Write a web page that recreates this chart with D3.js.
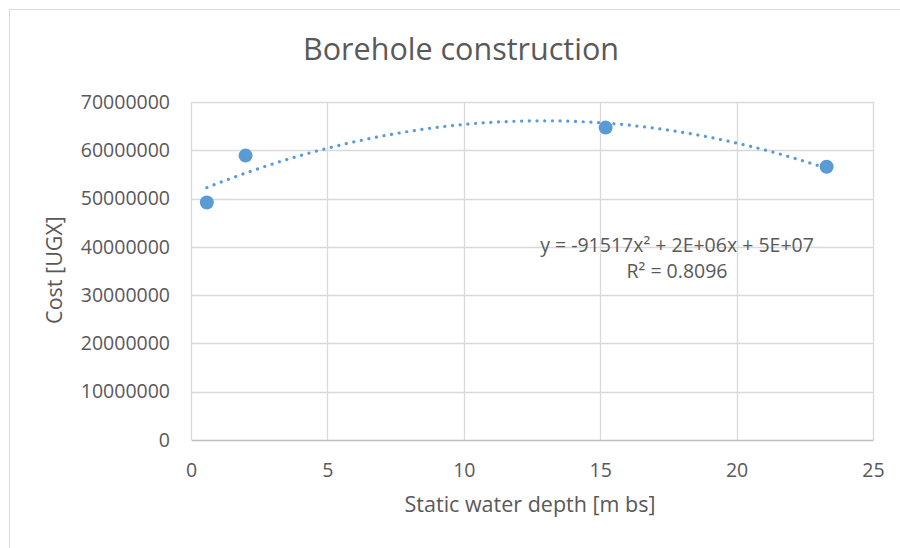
<!DOCTYPE html>
<html>
<head>
<meta charset="utf-8">
<script src="https://cdn.jsdelivr.net/npm/d3@7"></script>
<style>
  html, body { margin: 0; padding: 0; background: #fff; }
  svg { display: block; font-family: "Open Sans", sans-serif; }
</style>
</head>
<body>
<svg id="chart" width="900" height="548"></svg>
<script>
// Borehole survey: static water depth vs construction cost
const depth = [0.58, 2.0, 15.2, 23.3];
const cost = [49200000, 58900000, 64700000, 56600000];
const xTicks = [0, 5, 10, 15, 20, 25];
const yTicks = [0, 10000000, 20000000, 30000000, 40000000, 50000000, 60000000, 70000000];
const equationLines = ["y = -91517x\u00B2 + 2E+06x + 5E+07", "R\u00B2 = 0.8096"];

const blue = "#5B9BD5";
const grid = "#d9d9d9";
const textColor = "#595959";

const svg = d3.select("#chart");

// outer chart frame
svg.append("rect")
  .attr("x", 9.5).attr("y", 9.5)
  .attr("width", 1000).attr("height", 1000)
  .attr("fill", "none").attr("stroke", grid).attr("stroke-width", 1);

const plotLeft = 191, plotRight = 873, plotTop = 102, plotBottom = 440;
const x = d3.scaleLinear().domain([0, 25]).range([plotLeft, plotRight]);
const y = d3.scaleLinear().domain([0, 70000000]).range([plotBottom, plotTop]);

// gridlines
svg.append("g").selectAll("line").data(yTicks.slice(1)).join("line")
  .attr("x1", plotLeft).attr("x2", plotRight)
  .attr("y1", d => Math.round(y(d)) + 0.5).attr("y2", d => Math.round(y(d)) + 0.5)
  .attr("stroke", grid).attr("stroke-width", 1.3);
svg.append("g").selectAll("line").data(xTicks).join("line")
  .attr("y1", plotTop).attr("y2", plotBottom)
  .attr("x1", d => Math.round(x(d)) + 0.5).attr("x2", d => Math.round(x(d)) + 0.5)
  .attr("stroke", grid).attr("stroke-width", 1.3);

// axes (labels only, lines drawn with gridlines)
const xAxis = svg.append("g")
  .attr("transform", `translate(0,${plotBottom})`)
  .call(d3.axisBottom(x).tickValues(xTicks).tickSize(0).tickPadding(23).tickFormat(d3.format("d")));
xAxis.select(".domain").attr("stroke", "#bfbfbf").attr("stroke-width", 1.3);
xAxis.selectAll("text").attr("fill", textColor).attr("font-size", 19.5).attr("font-family", "Open Sans");

const yAxis = svg.append("g")
  .attr("transform", `translate(${plotLeft},0)`)
  .call(d3.axisLeft(y).tickValues(yTicks).tickSize(0).tickPadding(21).tickFormat(d3.format("d")));
yAxis.select(".domain").remove();
yAxis.selectAll("text").attr("fill", textColor).attr("font-size", 19.5).attr("font-family", "Open Sans");

// least-squares quadratic trendline through the points
function quadFit(xs, ys) {
  const n = xs.length;
  let s = [0, 0, 0, 0, 0], t = [0, 0, 0];
  for (let i = 0; i < n; i++) {
    for (let k = 0; k <= 4; k++) s[k] += Math.pow(xs[i], k);
    for (let k = 0; k <= 2; k++) t[k] += ys[i] * Math.pow(xs[i], k);
  }
  const M = [[s[0], s[1], s[2], t[0]], [s[1], s[2], s[3], t[1]], [s[2], s[3], s[4], t[2]]];
  for (let i = 0; i < 3; i++) {
    for (let j = i + 1; j < 3; j++) {
      const f = M[j][i] / M[i][i];
      for (let k = i; k < 4; k++) M[j][k] -= f * M[i][k];
    }
  }
  const r = [0, 0, 0];
  for (let i = 2; i >= 0; i--) {
    let v = M[i][3];
    for (let k = i + 1; k < 3; k++) v -= M[i][k] * r[k];
    r[i] = v / M[i][i];
  }
  return r; // [c, b, a]
}
const [c0, c1, c2] = quadFit(depth, cost);
const xMin = d3.min(depth), xMax = d3.max(depth);
const trend = d3.range(0, 201).map(i => {
  const xv = xMin + (xMax - xMin) * i / 200;
  return [xv, c0 + c1 * xv + c2 * xv * xv];
});
svg.append("path")
  .datum(trend)
  .attr("d", d3.line().x(d => x(d[0])).y(d => y(d[1])))
  .attr("fill", "none").attr("stroke", blue)
  .attr("stroke-width", 3.2).attr("stroke-linecap", "round")
  .attr("stroke-dasharray", "0.1 7.6");

// data points
svg.append("g").selectAll("circle").data(depth).join("circle")
  .attr("cx", d => x(d)).attr("cy", (d, i) => y(cost[i]))
  .attr("r", 7).attr("fill", blue);

// trendline equation
svg.append("text")
  .attr("text-anchor", "middle").attr("fill", textColor)
  .attr("font-size", 19.5)
  .selectAll("tspan").data(equationLines).join("tspan")
  .attr("x", 677).attr("y", (d, i) => 252 + i * 26)
  .text(d => d);

// title and axis titles
svg.append("text")
  .attr("x", 461).attr("y", 60)
  .attr("text-anchor", "middle").attr("fill", textColor)
  .attr("font-size", 30.5)
  .text("Borehole construction");

svg.append("text")
  .attr("x", 530).attr("y", 512)
  .attr("text-anchor", "middle").attr("fill", textColor)
  .attr("font-size", 21.5)
  .text("Static water depth [m bs]");

svg.append("text")
  .attr("transform", "translate(62,270) rotate(-90)")
  .attr("text-anchor", "middle").attr("fill", textColor)
  .attr("font-size", 21.5)
  .text("Cost [UGX]");
</script>
</body>
</html>
